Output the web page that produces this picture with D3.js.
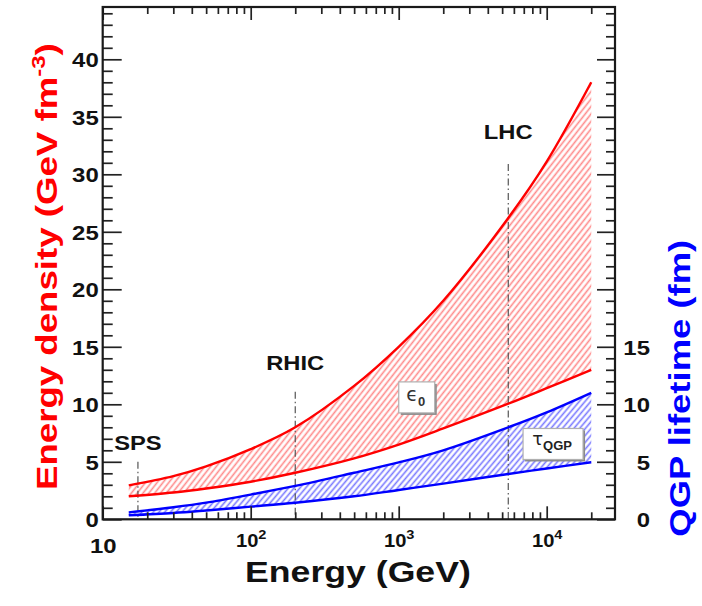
<!DOCTYPE html>
<html><head><meta charset="utf-8">
<script src="https://cdn.jsdelivr.net/npm/d3@7"></script>
<style>
body{margin:0;background:#fff;}
svg{display:block;font-family:"Liberation Sans",Arial,Helvetica,sans-serif;}
</style>
</head><body>
<svg id="chart" width="702" height="606"></svg>
<script>
// ---------------- data ----------------
const energies   = [15, 30, 50, 100, 200, 500, 1000, 2000, 5500, 10000, 20000];   // GeV
const epsUpper   = [2.95, 3.75, 4.6, 6.1, 8.0, 11.6, 15.0, 19.0, 26.2, 31.1, 38.0]; // GeV fm^-3
const epsLower   = [2.0, 2.33, 2.68, 3.27, 4.05, 5.3, 6.5, 7.9, 10.05, 11.4, 13.0];
const tauUpper   = [0.6, 1.05, 1.45, 2.15, 2.9, 4.05, 4.95, 6.0, 8.0, 9.3, 11.0];  // fm
const tauLower   = [0.35, 0.55, 0.77, 1.1, 1.44, 2.0, 2.55, 3.1, 3.94, 4.42, 4.96];

const accelerators = ["SPS", "RHIC", "LHC"];
const accelEnergy  = [17.3, 200, 5500];
const accelLineTop = [5.0, 11.1, 30.9];
const accelLabelAt = [6.0, 13.0, 33.1];

const leftTicks  = [0, 5, 10, 15, 20, 25, 30, 35, 40];
const rightTicks = [0, 5, 10, 15];
const xMajor     = [10, 100, 1000, 10000];
const xMinor     = [20,30,40,50,60,70,80,90,200,300,400,500,600,700,800,900,
                    2000,3000,4000,5000,6000,7000,8000,9000,20000];

const legendEps = {E: 1324, v: 10.6};
const legendTau = {E: 11040, v: 6.55};

// ---------------- layout ----------------
const svg = d3.select("#chart");
const L = 102.7, R = 615, T = 7, B = 519.3;
const x = d3.scaleLog().domain([10, Math.pow(10, 1 + (R - L) / 148)]).range([L, R]);
const y = d3.scaleLinear().domain([0, (B - T) / 11.5]).range([B, T]);

const defs = svg.append("defs");
function hatch(id, color, angle, size, w) {
  const p = defs.append("pattern").attr("id", id).attr("patternUnits", "userSpaceOnUse")
    .attr("width", size).attr("height", size).attr("patternTransform", `rotate(${angle})`);
  p.append("line").attr("x1", size/2).attr("y1", -1).attr("x2", size/2).attr("y2", size + 1)
    .attr("stroke", color).attr("stroke-width", w);
}
hatch("hRed", "#ff8a8a", 38, 4.6, 1.6);
hatch("hBlue", "#7a7aff", 40, 4.4, 1.6);

function stretchText(sel, f) {
  sel.each(function () {
    const len = this.getComputedTextLength();
    if (len > 0) { this.setAttribute("textLength", len * f); this.setAttribute("lengthAdjust", "spacingAndGlyphs"); }
  });
}

const idx = d3.range(energies.length);
const curve = d3.curveCatmullRom.alpha(0.5);
const area = (lo, hi) => d3.area().x(i => x(energies[i])).y0(i => y(lo[i])).y1(i => y(hi[i]))
  .curve(curve)(idx);
const line = (arr) => d3.line().x(i => x(energies[i])).y(i => y(arr[i])).curve(curve)(idx);

svg.append("path").attr("d", area(epsLower, epsUpper)).attr("fill", "url(#hRed)");
svg.append("path").attr("d", area(tauLower, tauUpper)).attr("fill", "url(#hBlue)");

// accelerator dash-dot lines
accelerators.forEach((name, i) => {
  svg.append("line").attr("x1", x(accelEnergy[i])).attr("x2", x(accelEnergy[i]))
    .attr("y1", y(accelLineTop[i])).attr("y2", y(0))
    .attr("stroke", "#555").attr("stroke-width", 1.2).attr("stroke-dasharray", "7,3,1.5,3");
});

[[epsUpper, "#ff0000"], [epsLower, "#ff0000"], [tauUpper, "#0000ff"], [tauLower, "#0000ff"]]
  .forEach(([arr, c]) => svg.append("path").attr("d", line(arr)).attr("fill", "none")
    .attr("stroke", c).attr("stroke-width", 2.4));

// accelerator labels
accelerators.forEach((name, i) => {
  const t = svg.append("text").attr("x", x(accelEnergy[i])).attr("y", y(accelLabelAt[i]))
    .attr("text-anchor", "middle").attr("font-weight", "bold").attr("font-size", 21)
    .attr("fill", "#111").text(name);
  stretchText(t, 1.13);
});

// legend boxes
function legendBox(cx, cy, w, h) {
  svg.append("rect").attr("x", cx - w/2 + 2).attr("y", cy - h/2 + 2).attr("width", w).attr("height", h)
    .attr("fill", "#8a8a8a");
  svg.append("rect").attr("x", cx - w/2).attr("y", cy - h/2).attr("width", w).attr("height", h)
    .attr("fill", "#fff").attr("stroke", "#b0b0b0").attr("stroke-width", 1.2);
}
{
  const cx = x(legendEps.E), cy = y(legendEps.v);
  legendBox(cx, cy, 36, 31);
  const t = svg.append("text").attr("x", cx - 1).attr("y", cy + 4).attr("text-anchor", "middle").attr("fill", "#333");
  t.append("tspan").attr("font-family", "DejaVu Sans").attr("font-size", 19).text("\u03F5");
  t.append("tspan").attr("font-size", 13).attr("font-weight", "bold").attr("dy", 5).text("0");
}
{
  const cx = x(legendTau.E), cy = y(legendTau.v);
  legendBox(cx, cy, 60, 31);
  const t = svg.append("text").attr("x", cx - 1).attr("y", cy + 1).attr("text-anchor", "middle").attr("fill", "#222");
  t.append("tspan").attr("font-family", "DejaVu Sans").attr("font-size", 18).text("\u03C4");
  t.append("tspan").attr("font-size", 13).attr("font-weight", "bold").attr("dy", 5).text("QGP");
}

// ---------------- axes ----------------
const tickColor = "#222";
function styleAxis(g) {
  g.select(".domain").remove();
  g.selectAll(".tick line").attr("stroke", tickColor).attr("stroke-width", 1.7);
}
const yMinorVals = d3.range(0, 45).filter(v => v % 5 !== 0);

// left
const gl = svg.append("g").attr("transform", `translate(${L},0)`)
  .call(d3.axisLeft(y).tickValues(leftTicks).tickSizeInner(-19).tickSizeOuter(0).tickPadding(4));
svg.append("g").attr("transform", `translate(${L},0)`)
  .call(d3.axisLeft(y).tickValues(yMinorVals).tickSizeInner(-10).tickSizeOuter(0).tickFormat(""))
  .call(styleAxis);
gl.call(styleAxis);
gl.selectAll("text").attr("font-size", 21).attr("font-weight", "bold").attr("fill", "#111")
  .attr("font-family", "Liberation Sans, Arial, sans-serif").attr("dy", "0.35em");
stretchText(gl.selectAll("text"), 1.14);

// right
const gr = svg.append("g").attr("transform", `translate(${R},0)`)
  .call(d3.axisRight(y).tickValues(leftTicks).tickSizeInner(-18).tickSizeOuter(0)
    .tickFormat(d => rightTicks.includes(d) ? d : ""));
svg.append("g").attr("transform", `translate(${R},0)`)
  .call(d3.axisRight(y).tickValues(yMinorVals).tickSizeInner(-9).tickSizeOuter(0).tickFormat(""))
  .call(styleAxis);
gr.call(styleAxis);
gr.selectAll("text").attr("x", 35).attr("text-anchor", "end").attr("font-size", 21).attr("font-weight", "bold")
  .attr("fill", "#111").attr("dy", "0.35em");
stretchText(gr.selectAll("text").filter(function(){ return this.textContent !== ""; }), 1.14);

// bottom
const gb = svg.append("g").attr("transform", `translate(0,${B})`)
  .call(d3.axisBottom(x).tickValues(xMajor).tickSizeInner(-13).tickSizeOuter(0).tickFormat(""));
svg.append("g").attr("transform", `translate(0,${B})`)
  .call(d3.axisBottom(x).tickValues(xMinor).tickSizeInner(-7).tickSizeOuter(0).tickFormat(""))
  .call(styleAxis);
gb.call(styleAxis);
gb.selectAll(".tick").each(function (d) {
  const t = d3.select(this).append("text").attr("fill", "#111").attr("font-weight", "bold").attr("text-anchor", "middle");
  const p = Math.round(Math.log10(d));
  if (p === 1) {
    t.attr("y", 34).attr("font-size", 21).text("10");
    t.attr("transform", "scale(1.14,1)");
  } else {
    t.attr("y", 28).attr("font-size", 18).attr("transform", "scale(1.12,1)");
    t.append("tspan").text("10");
    t.append("tspan").attr("font-size", 13).attr("dy", -8).text(p);
  }
});

// top
svg.append("g").attr("transform", `translate(0,${T})`)
  .call(d3.axisTop(x).tickValues(xMajor).tickSizeInner(-13).tickSizeOuter(0).tickFormat(""))
  .call(styleAxis);
svg.append("g").attr("transform", `translate(0,${T})`)
  .call(d3.axisTop(x).tickValues(xMinor).tickSizeInner(-7).tickSizeOuter(0).tickFormat(""))
  .call(styleAxis);

// frame
svg.append("rect").attr("x", L).attr("y", T).attr("width", R - L).attr("height", B - T)
  .attr("fill", "none").attr("stroke", "#1a1a1a").attr("stroke-width", 2.2);

// ---------------- titles ----------------
function fitTitle(t, length) {
  const len = t.node().getComputedTextLength();
  return length / len;
}
{
  const t = svg.append("text").attr("font-size", 29).attr("font-weight", "bold").attr("fill", "#ff0000");
  t.append("tspan").text("Energy density (GeV fm");
  t.append("tspan").attr("font-size", 19).attr("dy", -12).text("-3");
  t.append("tspan").attr("dy", 12).text(")");
  const s = fitTitle(t, 447);
  t.attr("transform", `translate(56.7,490) rotate(-90) scale(${s},1)`);
}
{
  const t = svg.append("text").attr("font-size", 29).attr("font-weight", "bold").attr("fill", "#0000ff")
    .text("QGP lifetime (fm)");
  const s = fitTitle(t, 297);
  t.attr("transform", `translate(690,536.7) rotate(-90) scale(${s},1)`);
}
{
  const t = svg.append("text").attr("font-size", 30).attr("font-weight", "bold").attr("fill", "#111")
    .text("Energy (GeV)");
  const s = fitTitle(t, 226);
  t.attr("transform", `translate(245,581.7) scale(${s},1)`);
}
</script>
</body></html>
